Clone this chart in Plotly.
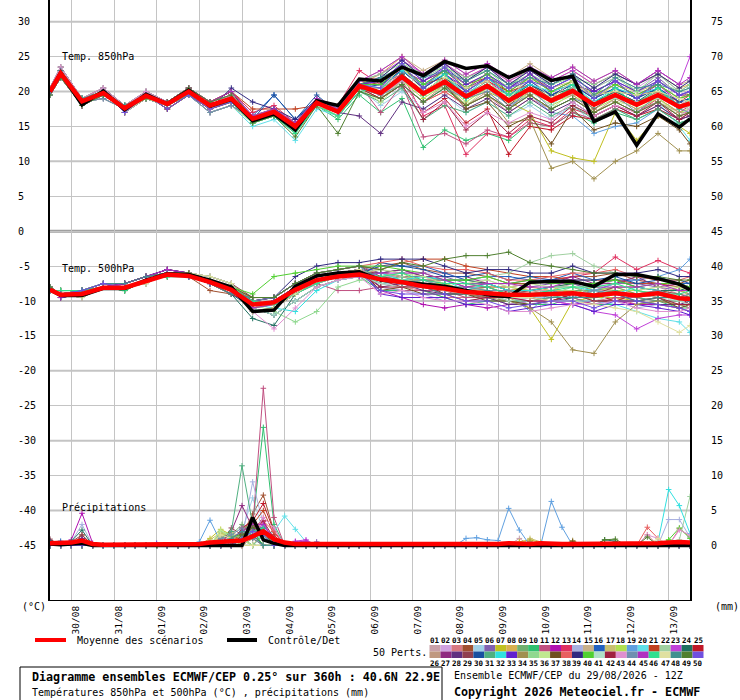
import plotly.graph_objects as go

# ---------------- data ----------------
hours_t = [0, 6, 18, 30, 42, 54, 66, 78, 90, 102, 114, 126, 138, 150, 162, 174,
           186, 198, 210, 222, 234, 246, 258, 270, 282, 294, 306, 318, 330, 342, 354, 360]
hours_p = list(range(0, 361, 6))

date_hours = [12, 36, 60, 84, 108, 132, 156, 180, 204, 228, 252, 276, 300, 324, 348]
date_labels = ["30/08", "31/08", "01/09", "02/09", "03/09", "04/09", "05/09", "06/09",
               "07/09", "08/09", "09/09", "10/09", "11/09", "12/09", "13/09"]
temp_ticks = [30, 25, 20, 15, 10, 5, 0, -5, -10, -15, -20, -25, -30, -35, -40, -45]
precip_ticks = [75, 70, 65, 60, 55, 50, 45, 40, 35, 30, 25, 20, 15, 10, 5, 0]

mean_850 = [20.0, 22.6, 18.6, 19.8, 17.6, 19.4, 18.2, 20.0, 18.0, 19.0, 16.1, 17.1, 15.0, 18.4, 17.1, 20.8,
            19.8, 22.1, 19.7, 21.4, 19.3, 20.8, 18.7, 20.4, 18.7, 20.1, 18.1, 19.5, 18.1, 19.5, 17.8, 18.3]
ctrl_850 = [20.0, 22.7, 18.1, 20.1, 17.4, 19.6, 18.2, 20.2, 17.9, 18.9, 15.8, 16.8, 14.5, 18.7, 18.0, 21.8,
            21.5, 23.5, 22.3, 24.3, 23.3, 23.7, 22.0, 23.3, 21.6, 22.2, 15.7, 17.1, 12.3, 16.8, 14.9, 16.1]
mean_500 = [-8.4, -9.1, -9.0, -8.1, -8.1, -7.1, -6.2, -6.4, -7.3, -8.4, -10.5, -10.2, -8.4, -7.0, -6.5, -6.2,
            -6.9, -7.3, -7.9, -8.2, -8.7, -8.9, -9.1, -9.1, -9.0, -8.9, -9.2, -8.9, -9.2, -8.9, -9.6, -9.7]
ctrl_500 = [-8.4, -9.2, -9.2, -8.2, -8.2, -7.0, -6.1, -6.2, -7.0, -8.0, -11.5, -11.3, -7.9, -6.4, -6.0, -5.8,
            -7.0, -7.3, -7.5, -7.9, -8.5, -9.1, -9.4, -7.3, -7.2, -7.2, -7.9, -6.2, -6.2, -6.8, -7.6, -8.4]
mean_pr = [0.3, 0.3, 0.4, 0.7, 0.2, 0.1, 0.1, 0.1, 0.1, 0.1,
           0.1, 0.1, 0.1, 0.1, 0.2, 0.4, 0.5, 0.6, 0.7, 1.3,
           2.0, 0.9, 0.4, 0.2, 0.2, 0.1, 0.1, 0.1, 0.1, 0.1,
           0.1, 0.1, 0.1, 0.1, 0.1, 0.1, 0.1, 0.1, 0.2, 0.2,
           0.2, 0.2, 0.2, 0.3, 0.2, 0.2, 0.3, 0.2, 0.2, 0.2,
           0.2, 0.2, 0.2, 0.2, 0.2, 0.2, 0.3, 0.3, 0.4, 0.5,
           0.4]
ctrl_pr = [0.2, 0.1, 0.2, 0.3, 0, 0, 0, 0, 0, 0,
           0, 0, 0, 0, 0, 0, 0, 0, 0, 4.0,
           0.8, 0.3, 0, 0, 0, 0, 0, 0, 0, 0,
           0, 0, 0, 0, 0, 0, 0, 0, 0, 0,
           0, 0, 0, 0, 0, 0, 0, 0, 0, 0,
           0, 0, 0, 0, 0, 0, 0, 0, 0, 0,
           0]

member_colors = ['#c8a0a8', '#d0a0e0', '#d87880', '#a05030', '#a0d0e8', '#8060b0', '#c0c020', '#d8b050',
                 '#70b070', '#30c070', '#c05080', '#b010b0', '#e03060', '#a8b0e0', '#c8b088', '#2060c0',
                 '#c8c070', '#b0e050', '#60a0e0', '#60e0e8', '#c04020', '#a0d0a0', '#c040d8', '#207060',
                 '#c01828',
                 '#c09880', '#902880', '#603080', '#904050', '#1850a0', '#50b080', '#30e0e0', '#6020d0',
                 '#a09050', '#90d890', '#c0e890', '#705020', '#e86060', '#302880', '#50d030', '#b0e0c8',
                 '#a02040', '#e090d0', '#7090b0', '#b030c0', '#30e090', '#e0e0a0', '#409090', '#508030',
                 '#7050e0']

t850_members = [
    "20 23 19 20 18 19.5 18 20 18 19 16 17 15 18.5 17 21 20.5 22.5 20 22 20 21 19 21 19 20.5 18.5 20 18.5 20 18 19",
    "19.5 22 18 19.5 17.5 19 18.5 20.5 18.5 19.5 16.5 17.5 15.5 19 17.5 21.5 22 24.5 22 24 21.5 23.5 21 23 21 22.5 20.5 22 20.5 22.5 20 21",
    "20 22.5 18.5 20 17 19.5 17.5 19.5 17.5 18.5 15.5 17 14.5 18 16.5 20 19 21 18.5 20 18 19.5 17 19 17.5 19 17 18.5 17 18.5 16.5 17",
    "20.5 23.5 19 20.5 18 20 18.5 20 18 19.5 16.5 17.5 15.5 19 17.5 21.5 21 23.5 21 23 21 22 20 22 20 21.5 19.5 21 19.5 21 19 19.5",
    "19.5 22 18.5 19 17.5 19 18 19.5 17 18 15.5 16.5 14.5 18 16.5 20.5 18 20 17.5 19.5 17 18.5 16.5 18 16 18 15.5 17.5 16 17.5 15.5 16",
    "20 23 18 20 17.5 19.5 18.5 20.5 18.5 20 16.5 17.5 15 18.5 17.5 21.5 21.5 24 21.5 23 21 22.5 20.5 22 20.5 22 20 21.5 20 22 19.5 20",
    "20 22 19 19.5 18 19 18 19.5 18 18.5 16 17 15 18 17 20.5 20 22 19.5 21 19 20 18.5 17 11.5 10.5 10 17 13 16.5 15 14",
    "20 23 19 20 18 19.5 18 20 18 19 16 17.5 15 18.5 17 21 22.5 25 22.5 24 22 23.5 21.5 23 21.5 23 21 22.5 21 22.5 20.5 21",
    "19.5 22 18 19.5 17.5 19 18.5 20.5 18.5 19.5 16 17 15 18.5 17 20.5 20 22.5 20 22 19.5 21.5 19 21 19 20.5 18.5 20 18.5 20 18 18.5",
    "20 22.5 18.5 20 17 19.5 17.5 19.5 17.5 18.5 15.5 16.5 14 18 16 19.5 17 19 12 14.5 13 14 13 15.5 15 17 15.5 17 16 17.5 15.5 16",
    "20.5 23.5 19 20.5 18 20 18.5 20 18 19.5 16.5 17 15.5 18.5 17 21 17 21 13.5 14 12.5 14.5 13.5 15.5 15 17 16 17.5 16.5 18 16 17",
    "19.5 22 18.5 19 17.5 19 18 19.5 17 18 16 17 15 18.5 17 21 21 23 20.5 22.5 20.5 21.5 19.5 21.5 19.5 21 19 20.5 19 21 18.5 19",
    "20 23 18 20 17.5 19.5 18.5 20.5 18.5 20 17 18 15.5 19 18 23 21 22.5 16.5 18 11 14 13.5 16 15 17.5 16.5 18 17 19 17 18",
    "20 22 19 19.5 18 19 18 19.5 18 18.5 16 17 15 18 17 20.5 19.5 22 19.5 21.5 19 21 18.5 20.5 18.5 20 18 19.5 18 19.5 17.5 18",
    "20 22.5 18 20 17 19 18 20 17.5 19 16.5 17.5 15.5 19 17.5 21.5 23 25 23 24.5 22.5 24 22 24 22 23.5 21.5 23 21 23 21 21.5",
    "20 23 19 20 18 19.5 18 20 18 19 16.5 19.5 16 19 17.5 21 21 23 20.5 22.5 20 22 19.5 21.5 19.5 21 19 20.5 19 20.5 18.5 19",
    "19.5 22 18 19.5 17.5 19 18.5 20.5 18.5 19.5 16 17 15 18.5 17 21 21.5 23.5 20.5 23 21 22.5 19.5 22 20.5 21.5 19 21 20 21 19 20",
    "20 22.5 18.5 20 17 19.5 17.5 19.5 17.5 18.5 16 17 15 18 17 20.5 19 21.5 19 21 18.5 20.5 18 20 18 19.5 17.5 19 17.5 19 17 17.5",
    "20.5 23.5 19 20.5 18 20 18.5 20 18 19.5 16 17 15 18.5 17 21 20 22 19.5 21 19 20.5 18 19.5 17 16.5 14 15 15.5 17.5 16 16.5",
    "19.5 22 18.5 19 17.5 19 18 19.5 17 18 15 16 13 17.5 16.5 20 19 21 18.5 20.5 18 19.5 17.5 19.5 17.5 19 17 18.5 17 18.5 15 13",
    "20 23 18 20 17.5 19.5 18.5 20.5 18.5 20 17.5 17.5 17.5 18 17.5 20.5 20.5 23 21 22 20.5 21.5 20 21 19 21.5 19.5 20 19.5 20 18.5 19.5",
    "20 22 19 19.5 18 19 18 19.5 18 18.5 16 17 15 18.5 17 21 22 24.5 22 23.5 21.5 23 21 22.5 21 22.5 20.5 22 20 21.5 20 20.5",
    "20 22.5 18 20 17 19 18 20 17.5 19 16.5 17.5 15.5 19 17.5 21.5 22.5 24.5 22.5 24 22 23.5 21.5 23 21.5 23 21 22.5 21 23 21 25",
    "20 23 19 20 18 19.5 18 20 18 19 16 17 15 18.5 17 20.5 20 22.5 20 22 19.5 21 19 21 19.5 20.5 18.5 20 18.5 20.5 18 18.5",
    "19.5 22 18 19.5 17.5 19 18.5 20.5 18.5 19.5 16 17 15 18.5 17 21 20 21.5 17 19 15.5 17.5 11 15 14.5 16.5 16 17.5 16.5 17.5 16 16.5",
    "20 22.5 18.5 20 17 19.5 17.5 19.5 17.5 18.5 16 17 15 18 17 20.5 19.5 21 18.5 21 18 20 17.5 20 18.5 19.5 17 19 17.5 18.5 17 17",
    "20.5 23.5 19 20.5 18 20 18.5 20 18 19.5 16.5 17.5 15.5 19 17.5 21 21.5 23 21.5 23 20.5 22 20.5 22.5 20 21 20 21.5 19 21.5 19.5 19.5",
    "19.5 22 18.5 19 17.5 19 18 19.5 17 18 16 17 15 18 17 16.5 14 18.5 17.5 19.5 17.5 19 17 19 17 18.5 16.5 18 16.5 18 16 16.5",
    "20 23 18 20 17.5 19.5 18.5 20.5 18.5 20 16 17 15 18.5 17 20.5 20 22 19.5 21.5 19.5 21 18 20.5 19 20 17.5 19.5 18.5 19.5 17.5 18.5",
    "20 22 19 19.5 18 19 18 19.5 18 18.5 16 19.5 16 19.5 17 20.5 21 23 20.5 22.5 20 22 19.5 21 19.5 21 19 20.5 19 20.5 18.5 19",
    "20 22.5 18 20 17 19 18 20 17.5 19 15.5 16.5 14.5 18 16.5 20 18.5 20.5 16 18 17 18.5 16.5 18.5 16.5 18 16 17.5 16 17.5 15.5 16",
    "20 23 19 20 18 19.5 18 20 18 19 16 17 15 18.5 17 21 20.5 23 21 22.5 19.5 22 19.5 21 20 21 18.5 20.5 19.5 20.5 18 18.5",
    "19.5 22 18 19.5 17.5 19 18.5 20.5 18.5 19.5 16 17 15 18.5 17 21 21.5 24 21.5 23.5 21 22.5 20.5 22.5 20.5 22 20 21.5 20 21.5 19.5 20",
    "20 22.5 18.5 20 17 19.5 17.5 19.5 17.5 18.5 16 17 15 18 17 20.5 19.5 21.5 19.5 21 18 19.5 15.5 16 9 10 7.5 10 11.5 14 11.5 11.5",
    "20.5 23.5 19 20.5 18 20 18.5 20 18 19.5 16.5 17.5 15.5 19 17.5 21.5 22.5 24 22.5 23.5 22 23 20.5 23.5 21 22 21 22.5 20 22.5 20 21",
    "19.5 22 18.5 19 17.5 19 18 19.5 17 18 15.5 16.5 14.5 18 16.5 20.5 18.5 21.5 19.5 20.5 18 20.5 18.5 19.5 17.5 20 17 18.5 18 19 16.5 18",
    "20 23 18 20 17.5 19.5 18.5 20.5 18.5 20 16 17 15 18.5 17 21 20 22 20 21 17.5 18.5 15 16.5 12.5 17.5 14.5 15.5 15 16.5 14.5 12.5",
    "20 22 19 19.5 18 19 18 19.5 18 18.5 16 17 15 18.5 17 20.5 19 21 18.5 20 18 19.5 17.5 19.5 17.5 19 17 18.5 17 18.5 16.5 17",
    "20 22.5 18 20 17 19 18 20 17.5 20.5 18.5 17.5 16 18.5 17 21 22 24.5 22 24 21.5 23.5 21 23 21 22.5 20.5 22.5 21 22.5 20.5 21.5",
    "20 23 19 20 18 19.5 18 20 18 19 16 17 15 18.5 17 21 21 23.5 21 23 20.5 22.5 20 22 20 21.5 19.5 21 19.5 21 19 19.5",
    "19.5 22 18 19.5 17.5 19 18.5 20.5 18.5 19.5 16 17 15 18 17 20.5 20 21.5 20 21 19.5 20.5 19 20 18 20.5 18.5 19 18.5 19 18 17.5",
    "20 22.5 18.5 20 17 19.5 17.5 19.5 17.5 18.5 16 17 15 18 17 20.5 19 21 16 18.5 14.5 17 14 16.5 15.5 18 16.5 18 16.5 18.5 16 17",
    "20.5 23.5 19 20.5 18 20 18.5 20 18 19.5 16 17 15 18.5 17 21 19.5 21.5 17 18.5 15 17 15.5 17 16 18.5 16.5 18 17 18.5 16.5 17.5",
    "19.5 22 18.5 19 17.5 19 18 19.5 17 18 16 17 15 18 17 20.5 19.5 21 18.5 20.5 19 20 17.5 20.5 17.5 19 18 19.5 17 19.5 17.5 17",
    "20 23 18 20 17.5 19.5 18.5 20.5 18.5 20 16.5 17.5 15.5 19 17.5 21.5 23 25 22.5 24.5 22.5 24 22 23.5 22 23.5 21.5 23 21 23 21 22",
    "20 22 19 19.5 18 19 18 19.5 18 18.5 15.5 16.5 14 18 16.5 20 20.5 22 19.5 22.5 19 21 19.5 20.5 18.5 21 18 20.5 18 20.5 17.5 19",
    "20 22.5 18 20 17 19 18 20 17.5 19 16 17 15 18 17 20.5 20.5 23.5 20 22 20.5 21.5 19 22 19 21.5 19.5 20 19.5 20 19 18.5",
    "20 23 19 20 18 19.5 18 20 18 19 16 17 15 18.5 17 21 22 23.5 22 23 21.5 23 21 22 21 22.5 19.5 22 20.5 21 20 20.5",
    "19.5 22 18 19.5 17.5 19 18.5 20.5 18.5 19.5 15.5 16.5 13.5 18 14 20 19 21 18.5 20.5 18 19.5 17.5 19.5 17.5 19 17 18.5 17 18.5 16.5 17",
    "20 22.5 18.5 20 17 19.5 17.5 19.5 17.5 18.5 16 17 15 18.5 17 21 20.5 24 20.5 23.5 20 22 20.5 21.5 20.5 22 19 21.5 19 21.5 19.5 20",
]

t500_members = [
    "-8 -9 -9 -8 -8 -7 -6 -6 -7 -8 -10.5 -10 -8 -6.5 -6 -6 -6.5 -6.5 -6.5 -7.5 -8.5 -8 -8 -8.5 -8.5 -7.5 -8.5 -8.5 -8.5 -8 -9 -9",
    "-8.5 -9 -8.5 -7.5 -8 -7 -6 -6.5 -7.5 -8.5 -10 -9.5 -7.5 -6.5 -6 -5.5 -5.5 -6 -6 -6 -7 -7 -8 -7.5 -7 -7 -8 -7 -7 -7.5 -8 -8.5",
    "-8 -9.5 -9 -8 -7.5 -6.5 -5.5 -6 -7 -8 -11 -10.5 -8.5 -7 -6.5 -6.5 -7.5 -8 -8.5 -9.5 -9.5 -9 -10 -9.5 -10 -10 -10 -9.5 -10.5 -10 -10 -10.5",
    "-8.5 -8.5 -8.5 -8 -8.5 -7 -6.5 -6.5 -8.5 -9 -10 -10.5 -9 -7.5 -6.5 -6 -5 -4.5 -5.5 -6 -6 -6.5 -7.5 -7.5 -7 -6.5 -6.5 -6 -7 -7.5 -7.5 -7",
    "-8 -9 -9.5 -8 -8 -7.5 -6 -6 -6.5 -7.5 -11.5 -11 -9 -7 -6 -5.5 -7.5 -7.5 -7.5 -8.5 -9.5 -9 -9 -9.5 -9.5 -8.5 -9.5 -9.5 -9.5 -9 -10 -10",
    "-8 -9 -8.5 -7.5 -7.5 -6.5 -6 -6.5 -7.5 -9 -9.5 -9.5 -7.5 -6 -5.5 -5 -6 -6.5 -6.5 -6.5 -7.5 -7.5 -8.5 -8 -7.5 -7.5 -8.5 -7.5 -7.5 -8 -8.5 -9",
    "-8 -9 -9 -8 -8 -7 -6 -6 -7 -8 -11 -12 -10 -8 -7 -6.5 -6.5 -7 -7.5 -8 -8.5 -9 -9.5 -11 -15.5 -10 -9.5 -9.5 -10 -10.5 -11 -11.5",
    "-8.5 -9 -8.5 -7.5 -8 -7 -6 -6.5 -7.5 -8.5 -10.5 -10 -8 -6.5 -6 -6 -6 -6.5 -7 -8 -8 -7.5 -8.5 -8 -8.5 -8.5 -8.5 -8 -9 -8.5 -8.5 -9",
    "-8 -9.5 -9 -8 -7.5 -6.5 -5.5 -6 -7 -8 -10 -9.5 -7.5 -6.5 -6 -5.5 -7 -6.5 -7.5 -8 -8 -8.5 -9.5 -9.5 -9 -8.5 -8.5 -8 -9 -9.5 -9.5 -9",
    "-8.5 -8.5 -8.5 -8 -8.5 -7 -6.5 -6.5 -7 -8 -11 -10.5 -8.5 -7 -6.5 -6.5 -8.5 -8.5 -8.5 -9.5 -10.5 -10 -10 -10.5 -10.5 -9.5 -10.5 -10.5 -10.5 -10 -11 -11",
    "-8 -9 -9.5 -8 -8 -7.5 -6 -6 -6.5 -7.5 -10.5 -10.5 -8.5 -7.5 -8.5 -8.5 -8 -8.5 -8.5 -8.5 -9.5 -9.5 -10.5 -10 -9.5 -9.5 -10.5 -9.5 -9.5 -10 -10.5 -11",
    "-8 -9 -8.5 -7.5 -7.5 -6.5 -6 -6.5 -7.5 -9 -10 -10.5 -9 -7.5 -6.5 -6 -8.5 -9.5 -10.5 -11 -10.5 -11 -10.5 -10 -10 -10.5 -10 -10 -10.5 -10.5 -11 -11.5",
    "-8 -9 -9 -8 -8 -7 -6 -6 -7 -8 -11.5 -11 -9 -7 -6 -5.5 -6 -6.5 -7 -7.5 -7.5 -8 -8 -7.5 -7 -6.5 -6 -3.7 -5.5 -4.2 -5.5 -6",
    "-8.5 -9 -8.5 -7.5 -8 -7 -6 -6.5 -7.5 -8.5 -9.5 -9.5 -7.5 -6 -5.5 -5 -8 -8.5 -9 -10 -10 -9.5 -10.5 -10 -10.5 -10.5 -10.5 -10 -11 -10.5 -10.5 -11",
    "-8 -9.5 -9 -8 -7.5 -6.5 -5.5 -6 -7 -8 -11 -12 -10 -8 -7 -6.5 -6 -5.5 -6.5 -7 -7 -7.5 -8.5 -8.5 -8 -7.5 -7.5 -7 -8 -8.5 -8.5 -8",
    "-8.5 -8.5 -8.5 -8 -8.5 -7 -6.5 -6.5 -7 -8 -10.5 -10 -8 -6.5 -6 -6 -5 -5 -5 -6 -7 -6.5 -6.5 -7 -7 -6 -7 -7 -7 -6.5 -7.5 -7.5",
    "-8 -9 -9.5 -8 -8 -7.5 -6 -6 -6.5 -7.5 -10 -9.5 -7.5 -6.5 -6 -5.5 -7 -7.5 -7.5 -7.5 -8.5 -8.5 -9.5 -9 -8.5 -8.5 -9.5 -8.5 -8.5 -9 -9.5 -10",
    "-8 -9 -8.5 -7.5 -7.5 -6.5 -6 -6.5 -7.5 -9 -11 -10.5 -8.5 -7 -6.5 -6.5 -6.5 -6 -7.5 -7.5 -8.5 -8 -8 -8.5 -8 -9 -8 -8.5 -8.5 -9 -8 -9.5",
    "-8 -9 -9 -8 -8 -7 -6 -6 -7 -8 -10 -10.5 -9 -7.5 -6.5 -6 -6.5 -7 -7.5 -8 -8.5 -9 -9 -11.5 -8.5 -9 -8.5 -7.5 -7 -6.5 -5.5 -4",
    "-8.5 -9 -8.5 -7.5 -8 -7 -6 -6.5 -7.5 -8.5 -11.5 -11 -9 -7 -6 -5.5 -7 -7.5 -8 -8 -8.5 -9 -9.5 -9.5 -10 -10 -10 -10.5 -11.5 -12.5 -13 -14.5",
    "-8 -9.5 -9 -8 -7.5 -6.5 -5.5 -6 -7 -8 -9.5 -9.5 -7.5 -6 -5.5 -5 -5.5 -4.5 -4 -4 -5 -5.5 -6 -6.5 -6.5 -7 -7 -7 -7.5 -7.5 -8 -8",
    "-8.5 -8.5 -8.5 -8 -8.5 -7 -6.5 -6.5 -7 -8 -11 -12 -10 -8 -7 -6.5 -6 -6.5 -7 -7 -7 -6.5 -6 -4.5 -3.5 -3.2 -5 -6 -6.5 -7 -7.5 -8",
    "-8 -9 -9.5 -8 -8 -7.5 -6 -6 -6.5 -7.5 -10.5 -10 -8 -6.5 -6 -6 -7 -7.5 -8 -8.5 -9 -9.5 -9.5 -10 -10 -10.5 -11.5 -12 -14 -12.5 -12 -12",
    "-8 -9 -8.5 -7.5 -7.5 -6.5 -6 -6.5 -7.5 -9 -12.5 -13.5 -9 -7 -6.5 -6 -6 -5.5 -6.5 -7 -7 -7.5 -8.5 -8.5 -8 -7.5 -7.5 -7 -8 -8.5 -8.5 -8",
    "-8 -9 -9 -8 -8 -7 -6 -6 -7 -8 -10 -9.5 -7.5 -6.5 -6 -5.5 -7 -8 -7.5 -9 -9 -9.5 -8.5 -9.5 -10 -9 -9 -10 -9 -9.5 -9.5 -10.5",
    "-8.5 -9 -8.5 -7.5 -8 -7 -6 -6.5 -7.5 -8.5 -11 -10.5 -8.5 -7 -6.5 -6.5 -6.5 -7 -7.5 -8.5 -8.5 -8 -9 -8.5 -9 -9 -9 -8.5 -9.5 -9 -9 -9.5",
    "-8 -9.5 -9 -8 -7.5 -6.5 -5.5 -6 -7 -8 -10 -10.5 -9 -7.5 -6.5 -6 -6 -5.5 -6.5 -6.5 -6.5 -7.5 -7.5 -7 -7.5 -6.5 -7.5 -7.5 -6.5 -8 -7.5 -8",
    "-8.5 -8.5 -8.5 -8 -8.5 -7 -6.5 -6.5 -7 -8 -11.5 -11 -9 -7 -6 -5.5 -8 -7.5 -8.5 -9 -9 -9.5 -10.5 -10.5 -10 -9.5 -9.5 -9 -10 -10.5 -10.5 -10",
    "-8 -9 -9.5 -8 -8 -7.5 -6 -6 -6.5 -7.5 -9.5 -9.5 -7.5 -6 -5.5 -5 -6.5 -7 -7 -7 -8 -8 -9 -8.5 -8 -8 -9 -8 -8 -8.5 -9 -9.5",
    "-8 -9 -8.5 -7.5 -7.5 -6.5 -6 -6.5 -7.5 -9 -11 -12 -10 -8 -7 -6.5 -4.5 -5 -5.5 -6.5 -6.5 -6 -7 -6.5 -7 -7 -7 -6.5 -7.5 -7 -7 -7.5",
    "-8 -9 -9 -8 -8 -7 -6 -6 -7 -8 -10.5 -10 -8 -6.5 -6 -6 -7.5 -7 -8 -8.5 -8.5 -9 -10 -10 -9.5 -9 -9 -8.5 -9.5 -10 -10 -9.5",
    "-8.5 -9 -8.5 -7.5 -8 -7 -6 -6.5 -7.5 -8.5 -10.5 -11 -11.5 -8.5 -7 -6.5 -6 -7 -6.5 -7 -8.5 -7.5 -8.5 -8.5 -8 -8 -8.5 -9 -8 -8.5 -9.5 -10",
    "-8 -9.5 -9 -8 -7.5 -6.5 -5.5 -6 -7 -8 -10 -9.5 -7.5 -6.5 -6 -5.5 -9 -9.5 -9.5 -9.5 -10.5 -10.5 -11.5 -11 -10.5 -10.5 -11.5 -10.5 -10.5 -11 -11.5 -12",
    "-8.5 -8.5 -8.5 -8 -8.5 -7 -6.5 -6.5 -7 -8 -11 -10.5 -8.5 -7 -6.5 -6.5 -7 -7.5 -8 -8.5 -9 -9.5 -10 -11 -13 -17 -17.5 -13 -10.5 -10 -10.5 -11",
    "-8 -9 -9.5 -8 -8 -7.5 -6 -6 -6.5 -7.5 -10.5 -11.5 -13 -11.5 -8 -7 -7 -7 -7 -8 -9 -8.5 -8.5 -9 -9 -8 -9 -9 -9 -8.5 -9.5 -9.5",
    "-8 -9 -8.5 -7.5 -7.5 -6.5 -6 -6.5 -7.5 -9 -10 -10.5 -9 -7.5 -6.5 -6 -5.5 -6 -6.5 -7.5 -7.5 -7 -8 -7.5 -8 -8 -8 -7.5 -8.5 -8 -8 -8.5",
    "-8 -9 -9 -8 -8 -7 -6 -6 -7 -8 -11.5 -11 -9 -7 -6 -5.5 -8.5 -8 -9 -9 -9 -10 -10 -10.5 -10 -9 -10 -10 -10 -9.5 -11 -10.5",
    "-8.5 -9 -8.5 -7.5 -8 -7 -6 -6.5 -7.5 -8.5 -9.5 -9.5 -7.5 -6 -5.5 -5 -4.5 -4 -5 -5.5 -5.5 -6 -7 -7 -6.5 -6 -6 -5.5 -6.5 -7 -7 -6.5",
    "-8 -9.5 -9 -8 -7.5 -6.5 -5.5 -6 -7 -8 -10 -9.5 -6.5 -5 -4.5 -4.5 -4 -4 -4 -5 -6 -5.5 -5.5 -6 -6 -5 -6 -6 -6 -5.5 -6.5 -6.5",
    "-8.5 -8.5 -8.5 -8 -8.5 -7 -6.5 -6.5 -7 -8 -9 -6.5 -6 -5.5 -5 -5 -5 -5.5 -6 -7 -7 -6.5 -7.5 -7 -7.5 -7.5 -7.5 -7 -8 -7.5 -7.5 -8",
    "-8 -9 -9.5 -8 -8 -7.5 -6 -6 -6.5 -7.5 -11 -12 -10 -8 -7 -6.5 -7.5 -8 -8 -8 -9 -9 -10 -9.5 -9 -9 -10 -9 -9 -9.5 -10 -10.5",
    "-8 -9 -8.5 -7.5 -7.5 -6.5 -6 -6.5 -7.5 -9 -10.5 -10 -8 -6.5 -6 -6 -8 -8 -8 -9 -10 -9.5 -9.5 -10 -10 -9 -10 -10 -10 -9.5 -10.5 -10.5",
    "-8 -9 -9 -8 -8 -7 -6 -6 -7 -8 -11.5 -14 -11 -8 -7 -6.5 -9 -8.5 -9.5 -10 -10 -10.5 -11.5 -11.5 -11 -10.5 -10.5 -10 -11 -11.5 -11.5 -11",
    "-8.5 -9 -8.5 -7.5 -8 -7 -6 -6.5 -7.5 -8.5 -10 -9.5 -7.5 -6.5 -6 -5.5 -7 -7.5 -7 -8 -8 -8.5 -8.5 -9 -8.5 -9.5 -8.5 -9 -9 -8.5 -9.5 -9",
    "-8 -9.5 -9 -8 -7.5 -6.5 -5.5 -6 -7 -8 -11 -10.5 -8.5 -7 -6.5 -6.5 -6 -6 -6 -7 -8 -7.5 -7.5 -8 -8 -7 -8 -8 -8 -7.5 -8.5 -8.5",
    "-8.5 -8.5 -8.5 -8 -8.5 -7 -6.5 -6.5 -7 -8 -10 -10.5 -9 -7.5 -6.5 -6 -6.5 -6 -7 -7.5 -7.5 -8 -9 -9 -8.5 -8 -8 -7.5 -8.5 -9 -9 -8.5",
    "-8 -9 -9.5 -8 -8 -7.5 -6 -6 -6.5 -7.5 -11.5 -11 -9 -7 -6 -5.5 -7 -7.5 -8 -8.5 -9 -9 -9.5 -9.5 -10 -10 -10.5 -11 -11.5 -13 -14.5 -13.5",
    "-8 -9 -8.5 -7.5 -7.5 -6.5 -6 -6.5 -7.5 -9 -9.5 -9.5 -7.5 -6 -5.5 -5 -7 -7.5 -8 -9 -9 -8.5 -9.5 -9 -9.5 -9.5 -9.5 -9 -10 -9.5 -9.5 -10",
    "-8 -9 -9 -8 -8 -7 -6 -6 -7 -8 -9.5 -9.5 -7.5 -6 -5.5 -5 -5.5 -4.5 -5 -4 -3.5 -3.5 -3 -4.5 -5 -5.5 -6 -6 -6.5 -6.5 -7 -7",
    "-8.5 -9 -8.5 -7.5 -8 -7 -6 -6.5 -7.5 -8.5 -10.5 -10 -8 -6.5 -6 -6 -8.5 -9 -9 -9 -10 -10 -11 -10.5 -10 -10 -11 -10 -10 -10.5 -11 -11.5",
]

# 6-hourly precipitation per member (mm), hours not listed are dry
precip_members = [
    {18: 0.6, 102: 1.2, 108: 2.0, 114: 1.5, 120: 3.0, 264: 1.0},
    {12: 0.4, 18: 1.0, 96: 1.5, 108: 2.5, 114: 3.5, 120: 1.0},
    {0: 0.5, 18: 0.8, 102: 1.0, 114: 2.0, 120: 4.0, 126: 2.5, 336: 1.5, 354: 2.4, 360: 1.2},
    {0: 0.6, 18: 1.5, 108: 1.5, 114: 4.5, 120: 7.2, 126: 2.0},
    {102: 0.8, 108: 2.0, 114: 6.8, 120: 2.0},
    {6: 0.3, 18: 1.0, 96: 1.0, 108: 1.5, 114: 2.5, 120: 1.5, 150: 0.5},
    {90: 1.0, 96: 2.3, 102: 1.5, 108: 0.8, 264: 0.5, 270: 0.8, 276: 0.4},
    {96: 1.8, 102: 1.0, 114: 1.5, 120: 2.5, 294: 0.6},
    {102: 1.5, 108: 3.0, 114: 2.0, 120: 1.0, 342: 0.6},
    {108: 2.0, 114: 3.0, 120: 16.9, 126: 3.0},
    {108: 1.0, 114: 2.5, 120: 22.5, 126: 4.0},
    {0: 0.4, 12: 0.8, 18: 4.6, 24: 0.3, 108: 1.5, 114: 2.0, 120: 3.5},
    {18: 0.7, 102: 1.2, 114: 1.8, 120: 2.0, 126: 1.5},
    {12: 0.5, 18: 3.0, 108: 1.0, 114: 9.1, 120: 3.0, 348: 3.7, 354: 3.7, 360: 1.2},
    {96: 1.2, 102: 2.0, 108: 1.0, 120: 2.0},
    {0: 0.5, 6: 0.6, 12: 0.3, 114: 1.5, 120: 2.5},
    {90: 0.8, 96: 1.8, 102: 1.2, 270: 1.0, 276: 0.5},
    {96: 1.5, 102: 2.0, 114: 1.0, 348: 0.8},
    {84: 0.5, 90: 3.6, 96: 0.5, 234: 1.0, 240: 1.1, 246: 0.8, 252: 0.7, 258: 5.3, 264: 2.2, 282: 6.3, 288: 2.6},
    {120: 1.5, 126: 2.0, 132: 4.2, 138: 2.3, 144: 0.5},
    {108: 2.0, 114: 3.0, 120: 5.0, 126: 1.5},
    {102: 1.0, 108: 1.5, 114: 2.0, 354: 0.8, 360: 7.0},
    {108: 1.0, 114: 2.0, 120: 3.0, 126: 1.0, 138: 0.6, 144: 0.8},
    {0: 0.7, 12: 0.6, 18: 2.2, 108: 1.0, 120: 1.5, 312: 0.8, 318: 0.6},
    {108: 2.5, 114: 3.5, 120: 6.0, 126: 2.0},
    {102: 1.0, 114: 1.0, 120: 2.0},
    {102: 2.0, 108: 5.7, 114: 2.5, 120: 1.0},
    {18: 1.0, 108: 1.0, 114: 1.5, 120: 2.5},
    {0: 0.9, 12: 0.5, 18: 1.5, 102: 2.5, 108: 1.5, 114: 1.0},
    {0: 0.5, 108: 1.0, 114: 2.0},
    {96: 1.0, 102: 2.0, 108: 11.4, 114: 3.0, 120: 1.0},
    {108: 1.0, 114: 1.5, 120: 1.0, 342: 0.5, 348: 8.0, 354: 5.7, 360: 1.7},
    {18: 0.8, 108: 1.5, 114: 2.0, 120: 2.5},
    {96: 1.0, 102: 1.5, 270: 0.6, 294: 0.7},
    {96: 2.0, 102: 1.5, 108: 1.0, 120: 1.5},
    {96: 2.2, 102: 1.0, 108: 0.8},
    {108: 1.0, 114: 3.0, 120: 2.0, 294: 0.5},
    {114: 1.5, 120: 3.5, 126: 2.0, 336: 2.6, 342: 1.0},
    {18: 0.5, 108: 1.0, 114: 1.5},
    {102: 1.2, 108: 1.5, 114: 2.0, 348: 0.8, 354: 2.5, 360: 1.0},
    {108: 1.0, 114: 1.8, 120: 1.0},
    {108: 1.5, 114: 2.5, 120: 3.5, 126: 1.0},
    {114: 1.5, 120: 4.0, 126: 2.5, 336: 1.5, 342: 1.0, 354: 2.2, 360: 1.5},
    {96: 1.0, 102: 1.5, 108: 2.5, 114: 1.0},
    {102: 1.0, 108: 2.0, 114: 3.0, 120: 3.0, 126: 0.8, 138: 0.5, 144: 0.6},
    {108: 1.0, 114: 2.0, 120: 2.5},
    {96: 1.5, 102: 1.0, 342: 1.0},
    {102: 1.0, 108: 2.0, 114: 1.5},
    {108: 1.5, 114: 2.5, 120: 2.0, 312: 0.8, 318: 0.9, 336: 1.2},
    {60: 0.3, 108: 1.0, 114: 2.0, 120: 1.5},
]

# ---------------- figure ----------------
FONT = "DejaVu Sans Mono"
W, H = 740, 700
ML, MR, MT, MB = 50, 50, 0, 100
TEMP_RANGE = [-52.82, 33.11]
PR_SHIFT = 45  # right (precipitation) scale = left scale + 45


def px(x):
    return (x - ML) / (W - ML - MR)


def py(y):
    return (H - MB - y) / (H - MT - MB)


def vals(s):
    return [float(v) for v in s.split()]


fig = go.Figure()


def member_trace(x, y, c, yaxis="y"):
    return go.Scatter(x=x, y=y, mode="lines+markers", yaxis=yaxis,
                      line=dict(color=c, width=1),
                      marker=dict(symbol="cross-thin", size=4, color=c, line=dict(width=1, color=c)),
                      hoverinfo="skip", showlegend=False)


for s, c in zip(t850_members, member_colors):
    y = vals(s)
    fig.add_trace(member_trace(hours_t[:len(y)], y, c))
for s, c in zip(t500_members, member_colors):
    y = vals(s)
    fig.add_trace(member_trace(hours_t[:len(y)], y, c))
for d, c in zip(precip_members, member_colors):
    y = [d.get(h, 0.0) for h in hours_p]
    fig.add_trace(member_trace(hours_p, y, c, yaxis="y2"))

for yv in (ctrl_850, ctrl_500):
    fig.add_trace(go.Scatter(x=hours_t, y=yv, mode="lines", line=dict(color="black", width=3.5),
                             hoverinfo="skip", showlegend=False))
fig.add_trace(go.Scatter(x=hours_p, y=ctrl_pr, yaxis="y2", mode="lines",
                         line=dict(color="black", width=3.5), hoverinfo="skip", showlegend=False))
for yv in (mean_850, mean_500):
    fig.add_trace(go.Scatter(x=hours_t, y=yv, mode="lines", line=dict(color="#ff0000", width=4.5),
                             hoverinfo="skip", showlegend=False))
fig.add_trace(go.Scatter(x=hours_p, y=mean_pr, yaxis="y2", mode="lines",
                         line=dict(color="#ff0000", width=4.5), hoverinfo="skip", showlegend=False))

# thicker grid lines every 10 units and double separator at 0
shapes = []
for v in temp_ticks:
    if v == 0:
        shapes.append(dict(type="line", xref="paper", yref="y", x0=0, x1=1, y0=v, y1=v,
                           line=dict(color="#a0a0a0", width=3), layer="below"))
    elif v % 10 == 0:
        shapes.append(dict(type="line", xref="paper", yref="y", x0=0, x1=1, y0=v, y1=v,
                           line=dict(color="#c4c4c4", width=2), layer="below"))

# bottom legend
shapes.append(dict(type="line", xref="paper", yref="paper", x0=px(35), x1=px(66), y0=py(640), y1=py(640),
                   line=dict(color="#ff0000", width=4)))
shapes.append(dict(type="line", xref="paper", yref="paper", x0=px(227), x1=px(257), y0=py(640), y1=py(640),
                   line=dict(color="black", width=4)))
cell_w = 10.96
x_start = 429.5
for i in range(25):
    x0 = x_start + i * cell_w
    shapes.append(dict(type="rect", xref="paper", yref="paper", x0=px(x0), x1=px(x0 + cell_w),
                       y0=py(651.5), y1=py(645), fillcolor=member_colors[i], line=dict(width=0)))
    shapes.append(dict(type="rect", xref="paper", yref="paper", x0=px(x0), x1=px(x0 + cell_w),
                       y0=py(658), y1=py(651.5), fillcolor=member_colors[i + 25], line=dict(width=0)))
shapes.append(dict(type="rect", xref="paper", yref="paper", x0=px(20), x1=px(442), y0=py(706), y1=py(667),
                   line=dict(color="black", width=1), fillcolor="rgba(0,0,0,0)"))

annotations = []


def label(x, y, text, size=10, anchor="left", bold=False):
    t = f"<b>{text}</b>" if bold else text
    annotations.append(dict(x=px(x), y=py(y), xref="paper", yref="paper", text=t, showarrow=False,
                            xanchor=anchor, yanchor="middle",
                            font=dict(family=FONT, size=size, color="black")))


label(60, 57, "Temp. 850hPa")
label(60, 268, "Temp. 500hPa")
label(60, 507, "Précipitations")
label(20, 606, "(°C)")
label(713, 606, "(mm)")
label(75, 640, "Moyenne des scénarios")
label(266, 640, "Contrôle/Det")
label(371, 652, "50 Perts.")
for i in range(25):
    cx = x_start + (i + 0.5) * cell_w
    label(cx, 640, f"{i + 1:02d}", size=7.5, anchor="center", bold=True)
    label(cx, 663, f"{i + 26:02d}", size=7.5, anchor="center", bold=True)
label(30, 677, "Diagramme ensembles ECMWF/CEP 0.25° sur 360h : 40.6N 22.9E", size=11.7, bold=True)
label(30, 692, "Températures 850hPa et 500hPa (°C) , précipitations (mm)")
label(452, 675.5, "Ensemble ECMWF/CEP du 29/08/2026 - 12Z")
label(452, 692, "Copyright 2026 Meteociel.fr - ECMWF", size=11.7, bold=True)

left_text = [str(v).ljust(3, "\u00a0") for v in temp_ticks]

fig.update_layout(
    width=W, height=H,
    margin=dict(l=ML, r=MR, t=MT, b=MB, pad=0),
    paper_bgcolor="white", plot_bgcolor="white",
    showlegend=False,
    font=dict(family=FONT, size=10, color="black"),
    xaxis=dict(range=[0, 360], tickmode="array", tickvals=date_hours, ticktext=date_labels,
               tickangle=-90, showgrid=True, gridcolor="#c4c4c4", gridwidth=1, zeroline=False,
               showline=True, linecolor="black", linewidth=1, ticks="",
               ticklabelshift=5, ticklabelstandoff=1,
               tickfont=dict(family=FONT, size=9.5, color="black")),
    yaxis=dict(range=TEMP_RANGE, tickmode="array", tickvals=temp_ticks, ticktext=left_text,
               showgrid=True, gridcolor="#c4c4c4", gridwidth=1, zeroline=False,
               showline=True, linecolor="black", linewidth=2, ticks="", ticklabelstandoff=10,
               tickfont=dict(family=FONT, size=10, color="black")),
    yaxis2=dict(range=[TEMP_RANGE[0] + PR_SHIFT, TEMP_RANGE[1] + PR_SHIFT], overlaying="y", side="right",
                tickmode="array", tickvals=precip_ticks, showgrid=False, zeroline=False,
                showline=True, linecolor="black", linewidth=2, ticks="", ticklabelstandoff=17,
                tickfont=dict(family=FONT, size=10, color="black")),
    shapes=shapes,
    annotations=annotations,
)

fig.write_html("out.html", config={"displayModeBar": False, "staticPlot": True},
               post_script="document.body.style.margin='0';document.body.style.overflow='hidden';")
